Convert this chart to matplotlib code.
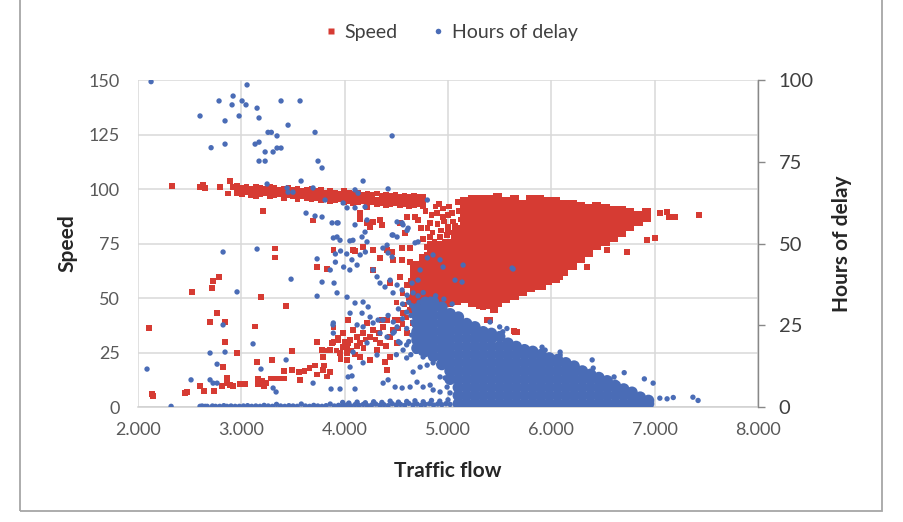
import matplotlib
matplotlib.use("Agg")
import matplotlib.pyplot as plt
from matplotlib.patches import Rectangle
from matplotlib.lines import Line2D

plt.rcParams['font.family'] = ['Lato', 'DejaVu Sans']

RED = "#d63b33"
BLUE = "#4a6cb6"
GRID = "#d9d9d9"

X_TICKS = [2000, 3000, 4000, 5000, 6000, 7000, 8000]
X_TICK_LABELS = ["2.000", "3.000", "4.000", "5.000", "6.000", "7.000", "8.000"]
SPEED_TICKS = [0, 25, 50, 75, 100, 125, 150]
DELAY_TICKS = [0, 25, 50, 75, 100]

# ---- Speed: scattered points (flow, speed)
speed_pts = [
    (2106, 36.2), (2135, 6), (2145, 5), (2330, 101.4), (2455, 6.4), (2475, 7), (2523, 52.8),
    (2600, 101), (2600, 9.6), (2630, 102), (2640, 7.3), (2650, 100.5), (2697, 39), (2716, 54.6),
    (2726, 57.8), (2735, 7.3), (2765, 43), (2784, 59.6), (2794, 101), (2813, 9.6), (2823, 18.3),
    (2842, 39), (2842, 29.8), (2860, 13.3), (2860, 11), (2870, 98), (2890, 103.7), (2890, 10),
    (2920, 9.6), (2920, 101), (2958, 24.8), (2987, 10.5), (3036, 10.5), (3133, 37), (3150, 20.6),
    (3160, 13), (3160, 10.5), (3190, 50.5), (3200, 12), (3210, 90), (3220, 9.5), (3240, 11),
    (3280, 13), (3297, 21.6), (3326, 72.7), (3326, 68.5), (3330, 13), (3380, 13), (3410, 13),
    (3410, 16.5), (3433, 46.3), (3490, 25.7), (3490, 17), (3560, 16), (3570, 12.4), (3610, 16.5),
    (3660, 18), (3694, 85.5), (3710, 19), (3730, 15), (3730, 29.8), (3733, 64.2), (3780, 26.1),
    (3790, 17), (3790, 23), (3800, 19), (3800, 26), (3830, 14), (3830, 63.3), (3860, 16),
    (3858, 26.1), (3878, 29.4), (3890, 36.5), (3890, 29.8), (3890, 72), (3936, 31.7), (3936, 30.7),
    (3955, 24.8), (3985, 33.9), (3985, 27.5), (4023, 24.8), (4023, 27.5), (4023, 21.6), (4033, 29.4),
    (4033, 39.9), (4052, 30.7), (4081, 35.3), (4081, 72), (4081, 93.6), (4100, 71.6), (4120, 32.1),
    (4149, 29.4), (4149, 22.9), (4149, 89), (4149, 86.2), (4178, 33.9), (4178, 73.4), (4216, 38.5),
    (4216, 91.7), (4216, 84.4), (4246, 32.1), (4246, 21.6), (4246, 82.6), (4275, 35.3), (4275, 84.9),
    (4275, 72), (4275, 62.8), (4313, 26.1), (4342, 29.4), (4342, 85.8), (4342, 68.3), (4362, 83.5),
    (4372, 36.7), (4390, 20.6), (4410, 39.9), (4410, 17), (4410, 72), (4440, 32.1), (4440, 22.9),
    (4440, 56.9), (4459, 71.1), (4468, 35.3), (4468, 67.4), (4507, 29.4), (4536, 39.9), (4536, 84.4),
    (4536, 59.6), (4556, 72.9), (4556, 67.4), (4565, 43.1), (4585, 79.8), (4604, 33.9), (4604, 87.2),
    (4604, 56), (4633, 44.5), (4633, 72.9), (4633, 66.5), (4662, 38.5), (4681, 87.2), (4700, 47.7),
    (4700, 62.8), (4700, 53.7), (4710, 85.8), (4759, 56.9), (4798, 73.4), (4827, 84.4), (4827, 78),
    (4827, 64.2), (4850, 80), (4856, 72.9), (4856, 53.7), (4880, 70), (4894, 89), (4894, 59.6),
    (4900, 84), (4900, 75), (4923, 78), (4950, 91), (4950, 67), (4952, 87.2), (4972, 75.7),
    (4972, 72), (4991, 55), (5000, 88), (5001, 82.6), (5020, 68.8), (5030, 75), (5050, 85),
    (5050, 80), (5100, 90), (5100, 82), (5340, 45.9), (5378, 39.9), (5407, 39.9), (5437, 44.5),
    (5446, 45), (5456, 44.5), (5640, 34.9), (5650, 34.4), (5669, 34.4), (5795, 56.9), (5920, 55),
    (6085, 59.6), (6280, 67.4), (6346, 64.2), (6540, 72), (6733, 71.1), (6927, 76.6), (7005, 77.5),
    (7053, 89), (7121, 89.4), (7140, 87.2), (7198, 87.2), (7430, 88),
    (3920, 26), (3960, 22), (4000, 30), (4060, 26), (4100, 24), (4120, 28), (4180, 27), (4200, 31),
    (4300, 31), (4330, 34), (4360, 40), (4400, 28), (4480, 40), (4520, 36), (4560, 38), (4600, 41),
    (4650, 46), (4700, 42), (4750, 45), (4800, 47), (4760, 40), (4700, 37),
    (4500, 48), (4560, 52), (4620, 50), (4680, 56), (4720, 50), (4640, 58), (4580, 47),
    (4780, 90), (4800, 82), (4840, 88), (4870, 76), (4910, 93), (4930, 81), (4960, 85),
    (4990, 79), (5010, 92), (5040, 89), (5070, 83), (5090, 94), (5120, 86), (4760, 77),
    (4880, 92), (5000, 80), (4820, 75), (4740, 82), (4790, 70), (4940, 72), (5060, 78),
]

# ---- Speed: free-flow band (around 92-102)
band_flow = [2960, 3005, 3050, 3095, 3140, 3185, 3230, 3275, 3320, 3365, 3410, 3455, 3500, 3545,
             3590, 3635, 3680, 3725, 3770, 3815, 3860, 3905, 3950, 3995, 4040, 4085, 4130, 4175,
             4220, 4265, 4310, 4355, 4400, 4445, 4490, 4535, 4580, 4625, 4670, 4715, 4760]
band_upper = [101.5, 100.5, 101, 100, 101, 100.5, 100, 101, 100.5, 99.5, 100, 100.5, 99.5, 100,
              99, 99.5, 100, 99, 99.5, 98.5, 99, 98.5, 98, 99, 98.5, 98, 98.5, 97.5, 98, 97.5,
              98, 97, 97.5, 97, 97.5, 96.5, 97, 96.5, 97, 96.5, 96.5]
band_middle = [99.5, 99, 99.5, 98.5, 99, 99, 98.5, 99, 98.5, 98.5, 98, 98.5, 98, 98, 98, 97.5,
               97.5, 97.5, 97, 97, 97, 96.5, 96.5, 96.5, 96.5, 95.5, 96, 96, 95.5, 95.5, 95,
               95.5, 95, 95, 95.5, 94.5, 95, 94, 94.5, 95, 94]
band_lower = [98, 97.5, 98.5, 97, 96.5, 97.5, 98, 96.5, 97, 97.5, 96, 97, 96.5, 95.5, 96.5, 96,
              95.5, 96, 95, 95.5, 94.5, 95, 95.5, 94, 94.5, 93.5, 94, 94.5, 93.5, 94, 93, 93.5,
              92.5, 93, 93.5, 92.5, 93, 92, 92.5, 93, 92]

# ---- Speed: dense fan, per flow column
speed_core = {
    4680: [45, 49, 53, 57, 61, 65],
    4760: [44, 48, 52, 56, 60, 64, 68],
    4840: [46, 50, 54, 58, 62, 66, 70, 73],
    4920: [47, 51, 55, 59, 63, 67, 71, 74],
    5000: [48, 52, 56, 60, 64, 68, 72, 75],
    5080: [49, 53, 57, 61, 65, 69, 73, 77, 81],
    5160: [50, 54, 58, 62, 66, 70, 74, 78, 82, 86, 90, 94],
    5240: [48, 52, 56, 60, 64, 68, 72, 76, 80, 84, 88, 92, 95],
    5320: [47, 51, 55, 59, 63, 67, 71, 75, 79, 83, 87, 91, 95],
    5400: [47, 51, 55, 59, 63, 67, 71, 75, 79, 83, 87, 91, 95],
    5480: [48, 52, 56, 60, 64, 68, 72, 76, 80, 84, 88, 92, 96],
    5560: [50, 54, 58, 62, 66, 70, 74, 78, 82, 86, 90, 94],
    5640: [51, 55, 59, 63, 67, 71, 75, 79, 83, 87, 91, 95],
    5720: [53, 57, 61, 65, 69, 73, 77, 81, 85, 89, 93],
    5800: [55, 59, 63, 67, 71, 75, 79, 83, 87, 91, 95],
    5880: [56, 60, 64, 68, 72, 76, 80, 84, 88, 92, 95],
    5960: [58, 62, 66, 70, 74, 78, 82, 86, 90, 94],
    6040: [59, 63, 67, 71, 75, 79, 83, 87, 91, 94],
    6120: [62, 66, 70, 74, 78, 82, 86, 90, 93],
    6200: [65, 69, 73, 77, 81, 85, 89, 93],
    6280: [68, 72, 76, 80, 84, 88, 92],
    6360: [71, 75, 79, 83, 87, 91],
    6440: [74, 78, 82, 86, 90, 92],
    6520: [76, 80, 84, 88, 91],
    6600: [78, 82, 86, 90],
    6680: [80, 84, 88, 90],
    6760: [83, 87, 89],
    6840: [85, 88],
    6920: [87, 89],
}

# ---- Hours of delay: scattered points (flow, hours)
delay_pts = [
    (2087, 11.6), (2126, 99.5), (2320, 0.2), (2513, 8.3), (2600, 89), (2697, 16.5), (2697, 8.3),
    (2707, 79.3), (2726, 7.3), (2765, 13.1), (2765, 7.3), (2784, 93.6), (2823, 25.1), (2823, 47.4),
    (2842, 87.5), (2842, 80.4), (2842, 16.8), (2910, 92.4), (2920, 95.1), (2958, 35.2), (2978, 89),
    (3007, 93.6), (3045, 92.4), (3055, 98.5), (3113, 19.3), (3133, 80.4), (3152, 91.4), (3152, 48.3),
    (3171, 88.4), (3171, 81), (3171, 75.2), (3190, 11.6), (3230, 78), (3230, 75.2), (3249, 68.2),
    (3258, 84), (3290, 84), (3307, 78), (3307, 5.8), (3336, 4.6), (3345, 82.9), (3345, 79.2),
    (3384, 93.6), (3384, 79.2), (3433, 14.4), (3442, 67), (3452, 86.2), (3452, 65.7), (3481, 39.1),
    (3500, 65.7), (3568, 93.6), (3578, 69.1), (3626, 59.3), (3694, 67), (3694, 7.3), (3713, 84),
    (3713, 58.4), (3733, 33.9), (3733, 45.3), (3742, 75.2), (3781, 73.1), (3781, 58.1), (3781, 38.2),
    (3810, 63.3), (3860, 41.9), (3868, 5.5), (3878, 56.3), (3887, 25.1), (3890, 25.7), (3890, 22.6),
    (3890, 51.7), (3897, 37.9), (3910, 46.8), (3910, 44.3), (3926, 34.9), (3926, 52), (3926, 56.3),
    (3936, 56.3), (3955, 51), (3955, 5.5), (3960, 47.7), (3985, 62.4), (3990, 42.8), (4020, 46.8),
    (4023, 60.9), (4023, 33.6), (4033, 9.2), (4050, 41.9), (4050, 50.8), (4052, 28.7), (4052, 12.2),
    (4070, 45), (4071, 9.5), (4080, 51), (4081, 16.8), (4100, 66.4), (4100, 60.9), (4100, 55.7),
    (4100, 31.8), (4100, 5.5), (4120, 43.4), (4120, 25.1), (4130, 65.4), (4150, 46.5), (4168, 52),
    (4168, 28.7), (4178, 69.1), (4178, 32.1), (4178, 24.5), (4178, 13.5), (4197, 61.2), (4197, 53.5),
    (4200, 47.4), (4216, 57.2), (4216, 50.5), (4216, 19.6), (4227, 30.6), (4246, 27.5), (4275, 41.9),
    (4275, 25.7), (4313, 39.8), (4313, 15.9), (4323, 26.6), (4342, 37.9), (4342, 22.6), (4370, 48.6),
    (4370, 26.6), (4372, 7.3), (4390, 36.7), (4410, 49.5), (4410, 21.4), (4420, 66.7), (4420, 47.1),
    (4420, 8.3), (4420, 28), (4440, 38.8), (4459, 82.9), (4459, 52.6), (4459, 45.9), (4468, 52.6),
    (4468, 34.9), (4468, 22.6), (4470, 26), (4480, 23), (4488, 6.1), (4500, 16), (4507, 56.6),
    (4507, 52), (4507, 37.3), (4507, 24.5), (4520, 30), (4520, 20), (4536, 19.6), (4556, 56.3),
    (4556, 35.8), (4556, 5.8), (4560, 27), (4560, 31.5), (4565, 55.7), (4565, 17.4), (4600, 24),
    (4600, 19), (4600, 15), (4604, 54), (4604, 34.2), (4614, 54.7), (4620, 32), (4633, 6.1),
    (4640, 28), (4650, 22), (4652, 37.9), (4662, 34.9), (4662, 10.7), (4680, 30), (4681, 50.2),
    (4700, 7.6), (4710, 38.8), (4710, 50.5), (4730, 41.9), (4730, 12.2), (4759, 6.1), (4759, 15.3),
    (4798, 12.8), (4800, 63.3), (4800, 45.6), (4827, 6.7), (4855, 46.5), (4856, 5.2), (4856, 13.5),
    (4923, 45), (4923, 4.6), (4923, 9.2), (4952, 42.8), (4972, 8.9), (4991, 6.1), (5020, 4.3),
    (5050, 8.3), (5068, 38.8), (5088, 3.7), (5117, 2.1), (5136, 38.2), (5146, 43.4), (5407, 26),
    (5500, 24.5), (5530, 23), (5570, 24), (5620, 42.5), (5630, 42.2), (5775, 16.8), (5910, 18.3),
    (5940, 17.4), (6085, 16.8), (6085, 15.9), (6395, 14.4), (6405, 11.9), (6607, 9.2), (6620, 7.6),
    (6705, 10.5), (6900, 8.6), (6985, 7.3), (7050, 2.7), (7120, 2.5), (7180, 2.9), (7370, 3),
    (7420, 2),
    (4690, 17), (4700, 21), (4720, 25), (4740, 29), (4760, 19), (4700, 27), (4680, 23),
    (4720, 32), (4760, 35), (4780, 24), (4790, 31), (4810, 20), (4740, 16.5), (4830, 33),
    (4660, 26), (4650, 31), (4710, 34), (4770, 22), (4880, 34), (4960, 33), (5040, 31.5),
    (4620, 20), (4640, 16), (4600, 29),
]

# ---- Hours of delay: the row of near-zero values
base_flow = [2600, 2620, 2650, 2670, 2720, 2750, 2790, 2830, 2860, 2900, 2940, 2980, 3020, 3060,
             3100, 3140, 3180, 3220, 3260, 3300, 3340, 3380, 3420, 3460, 3500, 3540, 3580, 3620,
             3660, 3700, 3740, 3780, 3820, 3860, 3900, 3940, 3980, 4020, 4060, 4100, 4140, 4180,
             4220, 4260, 4300, 4340, 4380, 4420, 4460, 4500, 4540, 4580, 4620, 4660, 4700, 4740,
             4780, 4820, 4860, 4900, 4940, 4980, 5020]
base_hours = [0.2, 0.3, 0.2, 0.2, 0.3, 0.2, 0.2, 0.4, 0.2, 0.3, 0.2, 0.2, 0.3, 0.4, 0.2, 0.3,
              0.2, 0.5, 0.3, 0.2, 0.8, 0.3, 0.2, 0.4, 0.3, 0.2, 0.9, 0.3, 0.2, 0.5, 0.3, 0.2,
              0.4, 0.9, 0.3, 0.5, 0.4, 0.6, 0.3, 0.7, 0.5, 0.8, 0.4, 0.6, 0.9, 0.5, 0.7, 0.4,
              1.0, 0.6, 0.8, 0.5, 1.1, 0.6, 0.9, 0.5, 0.8, 1.0, 0.6, 0.9, 0.7, 1.0, 0.8]
base2_flow = [3980, 4040, 4120, 4200, 4280, 4360, 4440, 4520, 4600, 4680, 4760, 4840, 4920, 5000]
base2_hours = [1.4, 1.2, 1.5, 1.3, 1.6, 1.4, 1.8, 1.5, 1.7, 1.9, 1.6, 2.0, 1.8, 2.2]

# ---- Hours of delay: dense triangle, per flow column
delay_core = {
    4700: [18, 20.5, 23, 25.5, 28, 30],
    4780: [17, 19.5, 22, 24.5, 27, 29.5, 32],
    4860: [15.5, 18, 20.5, 23, 25.5, 28, 30.5, 32],
    4940: [13, 15.5, 18, 20.5, 23, 25.5, 28, 30.5],
    5020: [8.5, 11, 13.5, 16, 18.5, 21, 23.5, 26, 28.5],
    5100: [1, 3.5, 6, 8.5, 11, 13.5, 16, 18.5, 21, 23.5, 26, 27.5],
    5180: [1, 3.5, 6, 8.5, 11, 13.5, 16, 18.5, 21, 23.5, 25.5],
    5260: [1, 3.5, 6, 8.5, 11, 13.5, 16, 18.5, 21, 23.5, 24.5],
    5340: [1, 3.5, 6, 8.5, 11, 13.5, 16, 18.5, 21, 23],
    5420: [1, 3.5, 6, 8.5, 11, 13.5, 16, 18.5, 21, 22.5],
    5500: [1, 3.5, 6, 8.5, 11, 13.5, 16, 18.5, 21.5],
    5580: [1, 3.5, 6, 8.5, 11, 13.5, 16, 18.5, 19.5],
    5660: [1, 3.5, 6, 8.5, 11, 13.5, 16, 18.5],
    5740: [1, 3.5, 6, 8.5, 11, 13.5, 16, 17.5],
    5820: [1, 3.5, 6, 8.5, 11, 13.5, 16, 17],
    5900: [1, 3.5, 6, 8.5, 11, 13.5, 16],
    5980: [1, 3.5, 6, 8.5, 11, 13.5, 15],
    6060: [1, 3.5, 6, 8.5, 11, 13.5, 14.5],
    6140: [1, 3.5, 6, 8.5, 11, 13.5],
    6220: [1, 3.5, 6, 8.5, 11, 12.5],
    6300: [1, 3.5, 6, 8.5, 11],
    6380: [1, 3.5, 6, 8.5, 10],
    6460: [1, 3.5, 6, 8.5, 9],
    6540: [1, 3.5, 6, 8],
    6620: [1, 3.5, 6, 6.5],
    6700: [1, 3.5, 5.5],
    6780: [1, 3.5, 4.5],
    6860: [1, 3],
    6940: [1, 2],
}


def columns_to_points(cols):
    xs, ys = [], []
    for flow, vals in cols.items():
        xs += [flow] * len(vals)
        ys += vals
    return xs, ys


fig = plt.figure(figsize=(9.04, 5.22), dpi=100)
ax = fig.add_axes([0.1527, 0.2203, 0.6858, 0.6264])
ax2 = ax.twinx()

# frame round the whole chart (top edge falls outside the picture)
fig.patches.append(Rectangle((20 / 904, 11 / 522), 862 / 904, 1.2, transform=fig.transFigure,
                             fill=False, edgecolor="#a6a6a6", lw=1.3))

# speed (left axis)
sx = [p[0] for p in speed_pts] + band_flow * 3
sy = [p[1] for p in speed_pts] + band_upper + band_middle + band_lower
ax.scatter(sx, sy, s=16, marker="s", c=RED, edgecolors="none", zorder=3)
cx, cy = columns_to_points(speed_core)
ax.scatter(cx, cy, s=44, marker="s", c=RED, edgecolors="none", zorder=3)

# hours of delay (right axis, drawn on top)
dx = [p[0] for p in delay_pts] + base_flow + base2_flow
dy = [p[1] for p in delay_pts] + base_hours + base2_hours
ax2.scatter(dx, dy, s=15, marker="o", c=BLUE, edgecolors="none", zorder=3)
kx, ky = columns_to_points(delay_core)
ax2.scatter(kx, ky, s=70, marker="o", c=BLUE, edgecolors="none", zorder=3)

ax.set_xlim(2000, 8000)
ax.set_ylim(0, 150)
ax2.set_ylim(0, 100)
ax.set_xticks(X_TICKS)
ax.set_xticklabels(X_TICK_LABELS)
ax.set_yticks(SPEED_TICKS)
ax2.set_yticks(DELAY_TICKS)

ax.grid(True, color=GRID, lw=1.1)
ax.set_axisbelow(True)
for side in ["top", "right", "left"]:
    ax.spines[side].set_visible(False)
ax.spines["bottom"].set_color("#d0d0d0")
ax.spines["bottom"].set_linewidth(1.1)
for side in ["top", "left", "bottom"]:
    ax2.spines[side].set_visible(False)
ax2.spines["right"].set_color("#888888")
ax2.spines["right"].set_linewidth(1.0)

ax.tick_params(axis="both", length=0, labelsize=13, labelcolor="#595959")
ax.tick_params(axis="x", pad=11)
ax.tick_params(axis="y", pad=13)
ax2.tick_params(axis="y", length=5, width=1.0, color="#888888", direction="out",
                labelsize=14.5, labelcolor="#404040", pad=10)

ax.set_xlabel("Traffic flow", fontsize=15, fontweight="bold", color="#262626", labelpad=16)
ax.set_ylabel("Speed", fontsize=15, fontweight="bold", color="#262626", labelpad=8)
ax2.set_ylabel("Hours of delay", fontsize=15, fontweight="bold", color="#262626", labelpad=13)

handles = [
    Line2D([], [], ls="none", marker="s", ms=4, mfc=RED, mec="none"),
    Line2D([], [], ls="none", marker="o", ms=4, mfc=BLUE, mec="none"),
]
fig.legend(handles, ["Speed", "Hours of delay"], loc="center", bbox_to_anchor=(0.497, 0.938),
           ncol=2, frameon=False, fontsize=14, labelcolor="#404040", handletextpad=0.2,
           columnspacing=1.6, handlelength=1.0)

fig.savefig("out.png", dpi=100)
